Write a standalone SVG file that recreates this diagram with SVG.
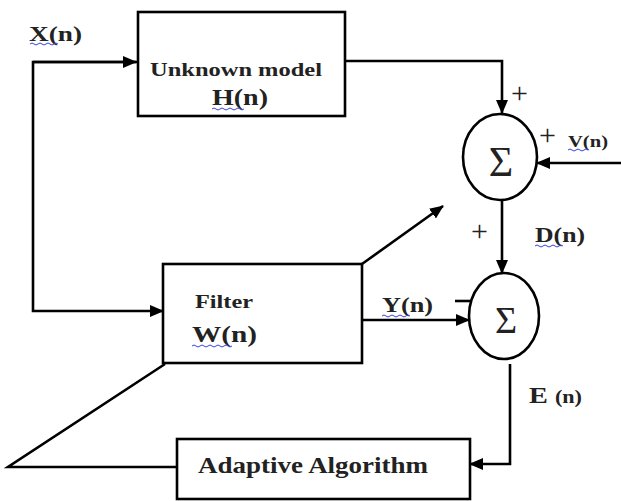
<svg xmlns="http://www.w3.org/2000/svg" width="621" height="501" viewBox="0 0 621 501">
<defs>
<style>
.box{fill:#fff;stroke:#000;stroke-width:2.6}
.ln{fill:none;stroke:#000;stroke-width:2.6}
.sum{fill:#fff;stroke:#000;stroke-width:2.6}
.t{font-family:"Liberation Serif","Times New Roman",serif;font-weight:bold;fill:#222}
.s{font-family:"Liberation Serif","Times New Roman",serif;fill:#222}
.p{font-family:"Liberation Serif","Times New Roman",serif;fill:#222;font-size:30px}
.wave{fill:none;stroke:#3344dd;stroke-width:1}
</style>
<marker id="ah" markerUnits="userSpaceOnUse" markerWidth="14" markerHeight="12" refX="13" refY="6" orient="auto">
<path d="M0,0 L14,6 L0,12 Z" fill="#000"/>
</marker>
</defs>
<rect width="621" height="501" fill="#fff"/>
<g id="connectors">
<path class="ln" d="M138,62 H33 V311 H163" marker-end="url(#ah)"/>
<path class="ln" d="M33,62 H136" marker-end="url(#ah)"/>
<path class="ln" d="M345,61 H502 V113" marker-end="url(#ah)"/>
<path class="ln" d="M621,163 H537" marker-end="url(#ah)"/>
<path class="ln" d="M502,200 V273" marker-end="url(#ah)"/>
<path class="ln" d="M362,320 H469" marker-end="url(#ah)"/>
<path class="ln" d="M362,264 L443,206" marker-end="url(#ah)"/>
<path class="ln" d="M510,364 V464 H470" marker-end="url(#ah)"/>
<path class="ln" d="M165,364 L8,467 H177"/>
<path class="ln" d="M455,301 H470"/>
</g>
<g id="x-label">
<text class="t" x="29" y="41" font-size="20" textLength="53" lengthAdjust="spacingAndGlyphs">X(n)</text>
<path class="wave" d="M30,44 q2,-2 4,0 t4,0 t4,0 t4,0 t4,0 t4,0 t4,0"/>
</g>
<g id="unknown-model">
<rect class="box" x="138" y="12" width="207" height="104"/>
<text class="t" x="150" y="76" font-size="19" textLength="172" lengthAdjust="spacingAndGlyphs">Unknown model</text>
<text class="t" x="212" y="105" font-size="24" textLength="56" lengthAdjust="spacingAndGlyphs">H(n)</text>
<path class="wave" d="M212,109 q2,-2 4,0 t4,0 t4,0 t4,0 t4,0 t4,0 t4,0 t4,0"/>
</g>
<g id="sum1">
<ellipse class="sum" cx="500" cy="157" rx="37" ry="43"/>
<text class="s" x="501" y="176" font-size="42" text-anchor="middle">Σ</text>
<text class="p" x="511" y="103">+</text>
<text class="p" x="539" y="145">+</text>
<text class="t" x="568" y="147" font-size="16" textLength="40" lengthAdjust="spacingAndGlyphs">V(n)</text>
<path class="wave" d="M568,150 q2,-2 4,0 t4,0 t4,0 t4,0 t4,0"/>
</g>
<g id="d-label">
<text class="p" x="471" y="241">+</text>
<text class="t" x="535" y="242" font-size="20" textLength="50" lengthAdjust="spacingAndGlyphs">D(n)</text>
<path class="wave" d="M535,246 q2,-2 4,0 t4,0 t4,0 t4,0 t4,0 t4,0 t4,0"/>
</g>
<g id="filter">
<rect class="box" x="163" y="264" width="199" height="99"/>
<text class="t" x="195" y="308" font-size="19" textLength="58" lengthAdjust="spacingAndGlyphs">Filter</text>
<text class="t" x="192" y="342" font-size="24" textLength="65" lengthAdjust="spacingAndGlyphs">W(n)</text>
<path class="wave" d="M192,346 q2,-2 4,0 t4,0 t4,0 t4,0 t4,0 t4,0 t4,0 t4,0 t4,0 t4,0"/>
</g>
<g id="y-label">
<text class="t" x="382" y="312" font-size="20" textLength="51" lengthAdjust="spacingAndGlyphs">Y(n)</text>
<path class="wave" d="M382,316 q2,-2 4,0 t4,0 t4,0 t4,0 t4,0 t4,0 t4,0"/>
</g>
<g id="sum2">
<ellipse class="sum" cx="504" cy="316" rx="35" ry="43"/>
<text class="s" x="506" y="333" font-size="38" text-anchor="middle">Σ</text>
</g>
<g id="e-label">
<text class="t" x="529" y="403" font-size="23" textLength="53" lengthAdjust="spacingAndGlyphs">E <tspan font-size="18">(n)</tspan></text>
</g>
<g id="adaptive-algorithm">
<rect class="box" x="177" y="439" width="293" height="60"/>
<text class="t" x="198" y="473" font-size="24" textLength="230" lengthAdjust="spacingAndGlyphs">Adaptive Algorithm</text>
</g>
</svg>
